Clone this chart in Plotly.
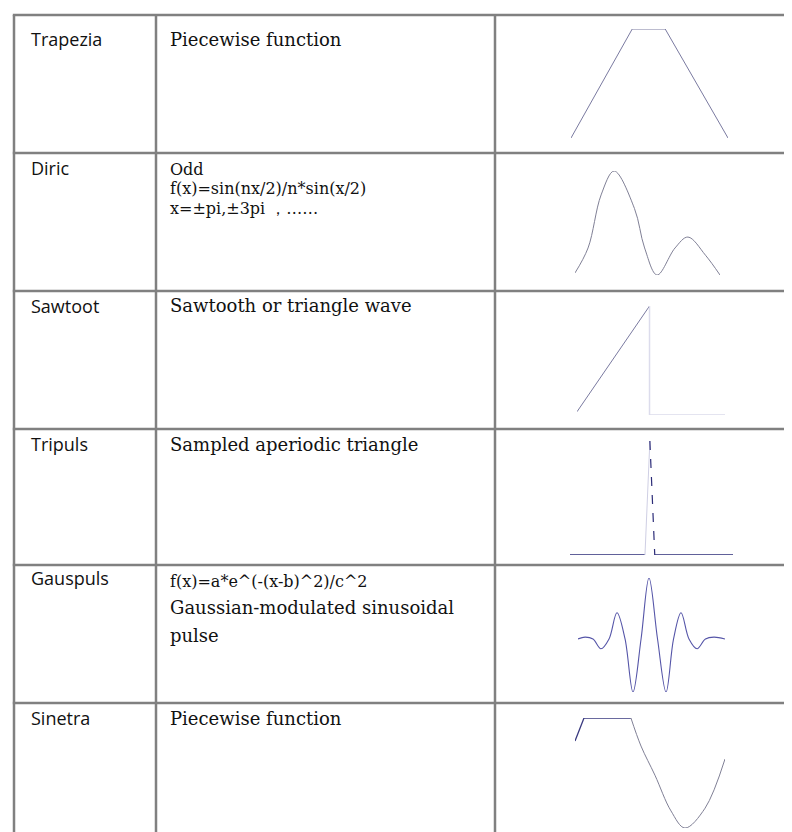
import plotly.graph_objects as go

W, H = 792, 832

# ---------------- data ----------------
names = ["Trapezia", "Diric", "Sawtoot", "Tripuls", "Gauspuls", "Sinetra"]
descriptions = [
    ["Piecewise function"],
    ["Odd", "f(x)=sin(nx/2)/n*sin(x/2)", "x=±pi,±3pi \uff0c\u2026\u2026"],
    ["Sawtooth or triangle wave"],
    ["Sampled aperiodic triangle"],
    ["f(x)=a*e^(-(x-b)^2)/c^2", "Gaussian-modulated sinusoidal", "pulse"],
    ["Piecewise function"],
]

trap_x = [0.0, 0.39, 0.60, 1.0]
trap_y = [0.0, 1.0, 1.0, 0.0]

diric_x = [0.0, 0.09, 0.18, 0.27, 0.41, 0.48, 0.566, 0.69, 0.779, 0.90, 1.0]
diric_y = [0.02, 0.26, 0.77, 1.0, 0.64, 0.26, 0.0, 0.26, 0.365, 0.19, 0.0]

saw_x = [0.0, 0.49, 0.49, 1.0]
saw_y = [0.03, 1.0, 0.0, 0.0]

tri_x = [0.0, 0.46, 0.49, 0.52, 1.0]
tri_y = [0.0, 0.0, 1.0, 0.0, 0.0]

gaus_x = [0.0, 0.048, 0.102, 0.156, 0.211, 0.265, 0.320, 0.374, 0.429, 0.483,
          0.541, 0.599, 0.650, 0.701, 0.755, 0.810, 0.867, 0.925, 1.0]
gaus_y = [0.0, 0.03, 0.0, -0.16, 0.0, 0.43, 0.0, -0.87, 0.0, 1.0,
          0.0, -0.87, 0.0, 0.43, 0.0, -0.16, 0.0, 0.03, 0.0]

sine_x = [0.0, 0.06, 0.373, 0.44, 0.533, 0.64, 0.733, 0.867, 1.0]
sine_y = [0.79, 1.0, 1.0, 0.745, 0.48, 0.155, 0.0, 0.18, 0.627]

# ---------------- layout geometry (pixels) ----------------
col_lines = [6, 148, 487]
row_lines = [7, 145, 283, 421, 557, 695, 833]
BORDER = "#808080"

# waveform boxes: x0, x1, y_top, y_bottom (pixels)
boxes = [
    (563, 720, 21, 130),
    (567, 712, 163, 267),
    (569, 717, 298, 407),
    (562, 725, 433, 547),
    (570, 717, 570, 684),
    (567, 717, 710, 820),
]


def px(x):
    return x / W


def py(y):
    return 1 - y / H


fig = go.Figure()
layout_axes = {}

wave_color = "#7a7aa0"
navy = "#2c2c78"
light = "#dcdcec"

traces = []
traces.append((1, dict(x=trap_x, y=trap_y, mode="lines", line=dict(color=wave_color, width=1))))
traces.append((2, dict(x=diric_x, y=diric_y, mode="lines", line=dict(color="#808096", width=1, shape="spline"))))
traces.append((3, dict(x=saw_x[:2], y=saw_y[:2], mode="lines", line=dict(color=wave_color, width=1))))
traces.append((3, dict(x=saw_x[1:], y=saw_y[1:], mode="lines", line=dict(color=light, width=1.5))))
traces.append((4, dict(x=tri_x[:2], y=tri_y[:2], mode="lines", line=dict(color=navy, width=1.5))))
traces.append((4, dict(x=tri_x[1:3], y=tri_y[1:3], mode="lines", line=dict(color="#cfcfe4", width=1))))
traces.append((4, dict(x=tri_x[2:4], y=tri_y[2:4], mode="lines", line=dict(color=navy, width=1.2, dash="dash"))))
traces.append((4, dict(x=tri_x[3:], y=tri_y[3:], mode="lines", line=dict(color=navy, width=1.5))))
traces.append((5, dict(x=gaus_x, y=gaus_y, mode="lines", line=dict(color="#5555a8", width=1.1, shape="spline"))))
traces.append((6, dict(x=sine_x[:3], y=sine_y[:3], mode="lines", line=dict(color="#3a3a80", width=1.3))))
traces.append((6, dict(x=sine_x[2:], y=sine_y[2:], mode="lines", line=dict(color="#808096", width=1, shape="spline"))))

yranges = {1: [0, 1], 2: [0, 1], 3: [0, 1], 4: [0, 1], 5: [-0.87, 1.0], 6: [0, 1]}

for k, tr in traces:
    fig.add_trace(go.Scatter(**tr, xaxis=f"x{k}", yaxis=f"y{k}", showlegend=False, hoverinfo="skip"))

for i, (x0, x1, yt, yb) in enumerate(boxes, start=1):
    layout_axes[f"xaxis{i}"] = dict(domain=[px(x0), px(x1)], range=[0, 1], visible=False,
                                    anchor=f"y{i}", fixedrange=True)
    layout_axes[f"yaxis{i}"] = dict(domain=[py(yb), py(yt)], range=yranges[i], visible=False,
                                    anchor=f"x{i}", fixedrange=True)

shapes = []
for x in col_lines:
    shapes.append(dict(type="line", xref="paper", yref="paper", x0=px(x), x1=px(x),
                       y0=py(row_lines[0]), y1=py(row_lines[-1]), line=dict(color=BORDER, width=2.5)))
for y in row_lines:
    shapes.append(dict(type="line", xref="paper", yref="paper", x0=px(col_lines[0]) - 0.0015, x1=1.0,
                       y0=py(y), y1=py(y), line=dict(color=BORDER, width=2.5)))

annotations = []
name_center = [31, 160, 298, 436, 570, 710]
desc_lines = [
    [31],
    [161, 181, 201],
    [298],
    [436],
    [573, 599, 627],
    [710],
]
# font size per description line (formula lines are set a little smaller)
desc_sizes = [
    [18],
    [16, 16, 16],
    [18],
    [18],
    [16, 18, 18],
    [18],
]
for r in range(6):
    annotations.append(dict(text=names[r], xref="paper", yref="paper", x=px(21), y=py(name_center[r]),
                            xanchor="left", yanchor="middle", showarrow=False,
                            font=dict(family="Open Sans", size=18, color="#111111")))
    for j, line in enumerate(descriptions[r]):
        annotations.append(dict(text=line, xref="paper", yref="paper", x=px(160),
                                y=py(desc_lines[r][j]),
                                xanchor="left", yanchor="middle", showarrow=False,
                                font=dict(family="DejaVu Serif", size=desc_sizes[r][j], color="#111111")))

fig.update_layout(width=W, height=H, margin=dict(l=0, r=0, t=0, b=0),
                  paper_bgcolor="white", plot_bgcolor="white",
                  shapes=shapes, annotations=annotations, **layout_axes)

fig.write_html("out.html")
